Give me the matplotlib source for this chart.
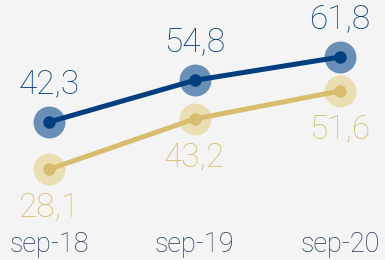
import matplotlib.pyplot as plt

categories = ["sep-18", "sep-19", "sep-20"]
blue_vals = [42.3, 54.8, 61.8]
gold_vals = [28.1, 43.2, 51.6]
blue_labels = ["42,3", "54,8", "61,8"]
gold_labels = ["28,1", "43,2", "51,6"]

BG = "#f4f4f4"
BLUE = "#003f7f"
BLUE_HALO = "#6a8fb7"
GOLD = "#d9bd6f"
GOLD_HALO = "#ebdeb3"
TICK = "#1f3a5f"

plt.rcParams['font.family'] = ['Roboto', 'DejaVu Sans']

fig = plt.figure(figsize=(3.85, 2.60), dpi=100, facecolor=BG)
ax = fig.add_axes([0, 30/260, 1, 230/260])
ax.set_facecolor(BG)
x = list(range(len(categories)))

ax.plot(x, blue_vals, 'o', ms=23, color=BLUE_HALO, mec='none', zorder=2)
ax.plot(x, gold_vals, 'o', ms=23, color=GOLD_HALO, mec='none', zorder=2)
ax.plot(x, blue_vals, '-o', lw=3.6, ms=9, color=BLUE, mec='none', zorder=3)
ax.plot(x, gold_vals, '-o', lw=3.6, ms=9, color=GOLD, mec='none', zorder=3)

for xi, v, t in zip(x, blue_vals, blue_labels):
    ax.annotate(t, (xi, v), xytext=(0, 27.5), textcoords='offset points',
                ha='center', va='center', fontsize=24, color=BLUE,
                fontweight='light')
for xi, v, t in zip(x, gold_vals, gold_labels):
    ax.annotate(t, (xi, v), xytext=(0, -27.5), textcoords='offset points',
                ha='center', va='center', fontsize=24, color=GOLD,
                fontweight='light')

ax.set_xlim(-0.337, 2.309)
ax.set_ylim(9.9, 78.9)
ax.set_xticks(x, categories)
ax.tick_params(axis='x', length=0, pad=0.5, labelsize=19.5, labelcolor=TICK)
for lab in ax.get_xticklabels():
    lab.set_fontweight('light')
ax.set_yticks([])
for s in ax.spines.values():
    s.set_visible(False)

fig.savefig("out.png", dpi=100, facecolor=BG)
